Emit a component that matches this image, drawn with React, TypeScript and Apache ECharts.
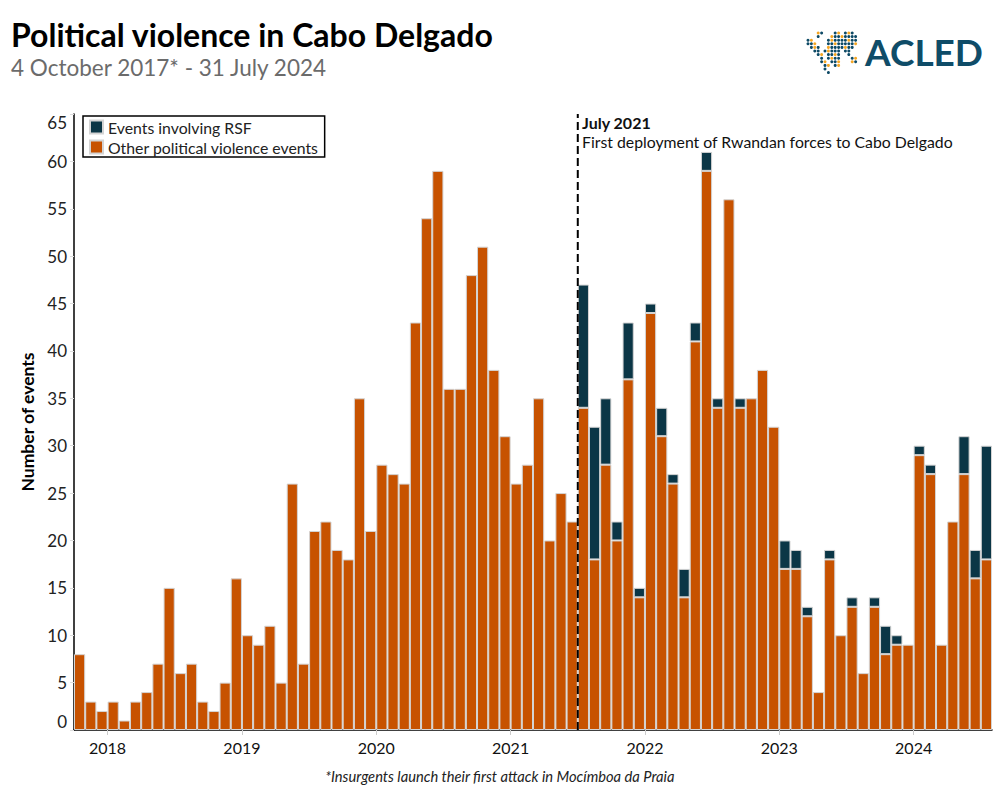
import React, { useEffect, useRef } from 'react';
import * as echarts from 'echarts';

// Monthly categories, 4 October 2017 - 31 July 2024
const categories: string[] = [
  '2017-10', '2017-11', '2017-12',
  '2018-01', '2018-02', '2018-03', '2018-04', '2018-05', '2018-06', '2018-07', '2018-08', '2018-09', '2018-10', '2018-11', '2018-12',
  '2019-01', '2019-02', '2019-03', '2019-04', '2019-05', '2019-06', '2019-07', '2019-08', '2019-09', '2019-10', '2019-11', '2019-12',
  '2020-01', '2020-02', '2020-03', '2020-04', '2020-05', '2020-06', '2020-07', '2020-08', '2020-09', '2020-10', '2020-11', '2020-12',
  '2021-01', '2021-02', '2021-03', '2021-04', '2021-05', '2021-06', '2021-07', '2021-08', '2021-09', '2021-10', '2021-11', '2021-12',
  '2022-01', '2022-02', '2022-03', '2022-04', '2022-05', '2022-06', '2022-07', '2022-08', '2022-09', '2022-10', '2022-11', '2022-12',
  '2023-01', '2023-02', '2023-03', '2023-04', '2023-05', '2023-06', '2023-07', '2023-08', '2023-09', '2023-10', '2023-11', '2023-12',
  '2024-01', '2024-02', '2024-03', '2024-04', '2024-05', '2024-06', '2024-07',
];

const otherEvents: number[] = [
  8, 3, 2,
  3, 1, 3, 4, 7, 15, 6, 7, 3, 2, 5, 16,
  10, 9, 11, 5, 26, 7, 21, 22, 19, 18, 35, 21,
  28, 27, 26, 43, 54, 59, 36, 36, 48, 51, 38, 31,
  26, 28, 35, 20, 25, 22, 34, 18, 28, 20, 37, 14,
  44, 31, 26, 14, 41, 59, 34, 56, 34, 35, 38, 32,
  17, 17, 12, 4, 18, 10, 13, 6, 13, 8, 9, 9,
  29, 27, 9, 22, 27, 16, 18,
];

const rsfEvents: number[] = [
  0, 0, 0,
  0, 0, 0, 0, 0, 0, 0, 0, 0, 0, 0, 0,
  0, 0, 0, 0, 0, 0, 0, 0, 0, 0, 0, 0,
  0, 0, 0, 0, 0, 0, 0, 0, 0, 0, 0, 0,
  0, 0, 0, 0, 0, 0, 13, 14, 7, 2, 6, 1,
  1, 3, 1, 3, 2, 2, 1, 0, 1, 0, 0, 0,
  3, 2, 1, 0, 1, 0, 1, 0, 1, 3, 1, 0,
  1, 1, 0, 0, 4, 3, 12,
];

const yearLabels: string[] = ['2018', '2019', '2020', '2021', '2022', '2023', '2024'];
const deploymentMonth = '2021-07';

const SERIES_RSF = 'Events involving RSF';
const SERIES_OTHER = 'Other political violence events';

// Globe logo dot pattern (decorative)
const globeRows: string[] = [
  '...ob...bo.bob..',
  '...b...obbobbbb.',
  'bo....bobbbbobb.',
  'bbo...bbobbbbbo.',
  '.bob..obbbbobb..',
  '..bb.bobbb.bb...',
  '...bo.bbob..b...',
  '....b.bobb...bo.',
  '....bo.bbo...ob.',
  '.....bo.bo......',
  '.....b..........',
  '......b.........',
];

export default function App() {
  const ref = useRef<HTMLDivElement>(null);

  useEffect(() => {
    if (!ref.current) return;
    const chart = echarts.init(ref.current, null, { renderer: 'svg' });

    const yearTickValues = yearLabels.map((y) => categories.indexOf(`${y}-01`));
    const deployIdx = categories.indexOf(deploymentMonth);

    const globe: any[] = [];
    globeRows.forEach((row, r) => {
      row.split('').forEach((ch, c) => {
        if (ch === '.') return;
        globe.push({
          type: 'circle',
          shape: { cx: 808 + c * 3.4, cy: 33 + r * 3.6, r: 1.5 },
          style: { fill: ch === 'o' ? '#F5A623' : '#0E4A66' },
          silent: true,
        });
      });
    });

    const option: any = {
      animation: false,
      backgroundColor: '#ffffff',
      textStyle: { fontFamily: 'Lato' },
      title: {
        text: 'Political violence in Cabo Delgado',
        subtext: '4 October 2017* - 31 July 2024',
        left: 11,
        top: 18,
        itemGap: 6,
        padding: [0, 0, 0, 0],
        textStyle: { fontSize: 32, fontWeight: 'bold', color: '#000', fontFamily: 'Lato' },
        subtextStyle: { fontSize: 22.5, color: '#6b6b6b', fontFamily: 'Lato' },
      },
      legend: {
        data: [SERIES_RSF, SERIES_OTHER],
        orient: 'vertical',
        left: 83,
        top: 116,
        padding: [3, 6, 2, 6],
        itemGap: 4,
        itemWidth: 13,
        itemHeight: 13,
        icon: 'rect',
        borderColor: '#000',
        borderWidth: 1.5,
        borderRadius: 0,
        textStyle: { fontSize: 15.8, color: '#222', fontFamily: 'Lato' },
      },
      grid: { left: 74, right: 8, top: 114, bottom: 70 },
      xAxis: [
        {
          type: 'category',
          data: categories,
          position: 'bottom',
          boundaryGap: true,
          axisLine: { show: true, lineStyle: { color: '#000', width: 1.5 } },
          axisTick: { show: false },
          axisLabel: { show: false },
          splitLine: { show: false },
        },
        {
          type: 'value',
          min: 0,
          max: categories.length,
          position: 'bottom',
          axisLine: { show: false },
          splitLine: { show: false },
          axisTick: {
            show: true,
            customValues: yearTickValues,
            length: 5,
            lineStyle: { color: '#cccccc', width: 1 },
          },
          axisLabel: {
            show: true,
            customValues: yearTickValues,
            formatter: (v: number) => categories[Math.round(v)].slice(0, 4),
            fontSize: 16,
            color: '#111',
            margin: 9,
            fontFamily: 'Lato',
          },
        },
      ],
      yAxis: {
        type: 'value',
        min: 0,
        max: 65,
        interval: 5,
        name: 'Number of events',
        nameLocation: 'middle',
        nameGap: 37,
        nameTextStyle: { fontSize: 17.5, fontWeight: 'bold', color: '#000', fontFamily: 'Lato' },
        axisLine: { show: true, lineStyle: { color: '#000', width: 1.5 } },
        axisTick: { show: true, length: 4, lineStyle: { color: '#dddddd' } },
        axisLabel: {
          fontSize: 17,
          color: '#222',
          margin: 7,
          fontFamily: 'Lato',
          verticalAlignMinLabel: 'bottom',
          verticalAlignMaxLabel: 'top',
        },
        splitLine: { show: false },
      },
      series: [
        {
          name: SERIES_OTHER,
          type: 'bar',
          stack: 'events',
          data: otherEvents,
          barCategoryGap: '0%',
          itemStyle: { color: '#C75200', borderColor: '#d4d4d4', borderWidth: 1 },
        },
        {
          name: SERIES_RSF,
          type: 'bar',
          stack: 'events',
          data: rsfEvents.map((v) => (v === 0 ? null : v)),
          barCategoryGap: '0%',
          itemStyle: { color: '#0B3646', borderColor: '#d4d4d4', borderWidth: 1 },
        },
        {
          name: 'deployment',
          type: 'line',
          xAxisIndex: 1,
          yAxisIndex: 0,
          data: [[deployIdx, 0], [deployIdx, 65]],
          symbol: 'none',
          silent: true,
          z: 10,
          lineStyle: { color: '#000', width: 2, type: [8, 4] },
        },
      ],
      graphic: [
        {
          type: 'text',
          left: 582,
          top: 114,
          style: { text: 'July 2021', fontSize: 16, fontWeight: 'bold', fill: '#111', fontFamily: 'Lato' },
        },
        {
          type: 'text',
          left: 582,
          top: 133,
          style: {
            text: 'First deployment of Rwandan forces to Cabo Delgado',
            fontSize: 15.8,
            fill: '#111',
            fontFamily: 'Lato',
          },
        },
        {
          type: 'text',
          left: 'center',
          top: 768,
          style: {
            text: '*Insurgents launch their first attack in Mocímboa da Praia',
            fontSize: 14.7,
            fontStyle: 'italic',
            fill: '#222',
            fontFamily: 'Lato',
          },
        },
        {
          type: 'text',
          left: 865,
          top: 33,
          style: { text: 'ACLED', fontSize: 37, fontWeight: 'bold', fill: '#0F4C68', fontFamily: 'Lato' },
        },
        ...globe,
      ],
    };

    chart.setOption(option);
    return () => chart.dispose();
  }, []);

  return (
    <div
      ref={ref}
      style={{ position: 'fixed', left: 0, top: 0, width: 1000, height: 800, background: '#fff' }}
    />
  );
}
